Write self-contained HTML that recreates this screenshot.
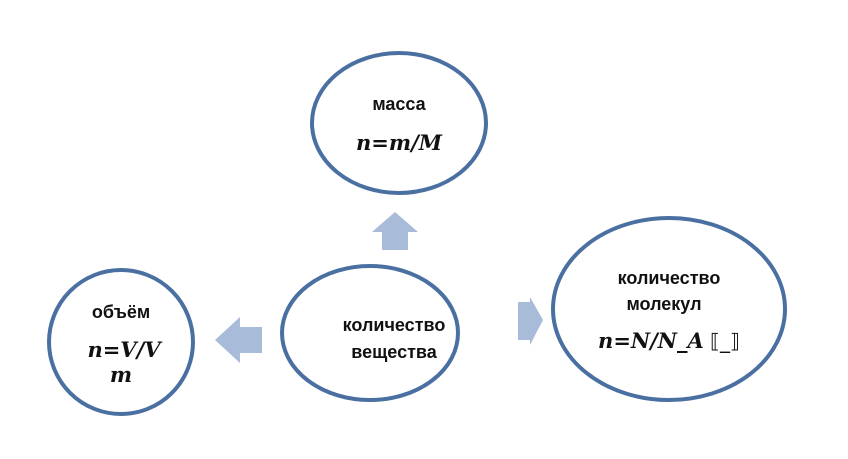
<!DOCTYPE html>
<html><head><meta charset="utf-8"><style>
html,body{margin:0;padding:0;background:#fff;}
svg{display:block}
text{font-family:"Liberation Sans","DejaVu Sans",sans-serif;fill:#111;font-weight:bold}
.m{font-family:"DejaVu Serif","Liberation Serif",serif;font-style:italic;font-weight:bold}
</style></head><body>
<svg width="848" height="459" viewBox="0 0 848 459">
<g fill="#fff" stroke="#4a70a2" stroke-width="4">
<ellipse cx="399" cy="123" rx="87" ry="70"/>
<ellipse cx="370" cy="333" rx="88" ry="67"/>
<ellipse cx="121" cy="342" rx="72" ry="72"/>
<ellipse cx="669" cy="309" rx="116" ry="91"/>
</g>
<g fill="#a8bbd9">
<polygon points="395,212 418,232 408,232 408,250 382,250 382,232 372,232"/>
<polygon points="215,340 240,317 240,327 262,327 262,353 240,353 240,363"/>
<polygon points="518,302 530,302 530,297 543,320 530,345 530,340 518,340"/>
</g>
<text x="399" y="110" font-size="18" text-anchor="middle">масса</text>
<text x="399" y="150" font-size="21" text-anchor="middle" class="m">n=m/M</text>
<text x="394" y="331" font-size="18" text-anchor="middle">количество</text>
<text x="394" y="358" font-size="18" text-anchor="middle">вещества</text>
<text x="121" y="318" font-size="18" text-anchor="middle">объём</text>
<text x="124" y="357" font-size="21" text-anchor="middle" class="m">n=V/V</text>
<text x="121" y="382" font-size="21" text-anchor="middle" class="m">m</text>
<text x="669" y="284" font-size="18" text-anchor="middle">количество</text>
<text x="664" y="310" font-size="18" text-anchor="middle">молекул</text>
<text x="669" y="348" font-size="21" text-anchor="middle"><tspan class="m">n=N/N_A</tspan><tspan font-weight="normal" font-family="DejaVu Sans" font-size="20"> ⟦_⟧</tspan></text>
</svg>
</body></html>
